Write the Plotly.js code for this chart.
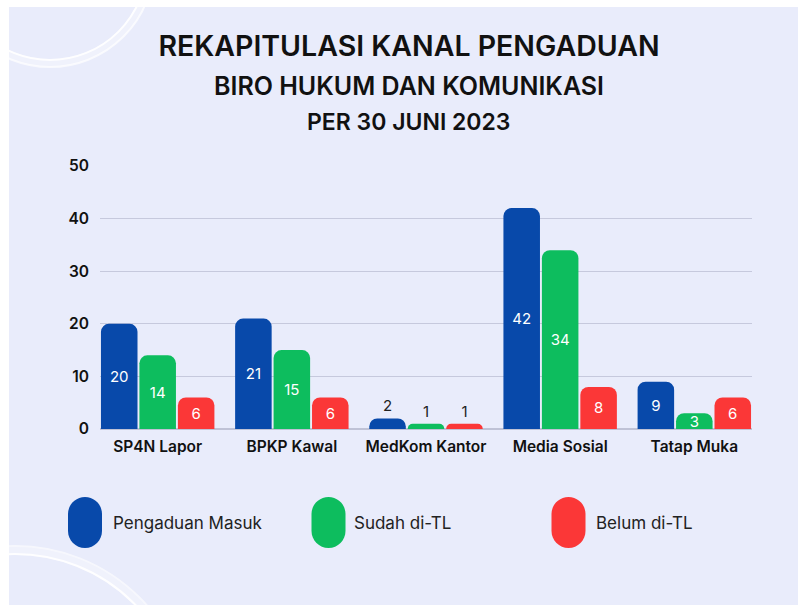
<!DOCTYPE html>
<html>
<head>
<meta charset="utf-8">
<script src="https://cdn.plot.ly/plotly-3.0.1.min.js"></script>
<style>html,body{margin:0;padding:0;background:#fff;}#chart{width:798px;height:605px;}</style>
</head>
<body>
<div id="chart"></div>
<script>
// ---- data ----
const categories = ['SP4N Lapor', 'BPKP Kawal', 'MedKom Kantor', 'Media Sosial', 'Tatap Muka'];
const pengaduanMasuk = [20, 21, 2, 42, 9];
const sudahTL = [14, 15, 1, 34, 3];
const belumTL = [6, 6, 1, 8, 6];
const seriesNames = ['Pengaduan Masuk', 'Sudah di-TL', 'Belum di-TL'];
const yTickVals = [0, 10, 20, 30, 40, 50];
const titleLines = ['REKAPITULASI KANAL PENGADUAN', 'BIRO HUKUM DAN KOMUNIKASI', 'PER 30 JUNI 2023'];

// ---- styles ----
const colors = ['#0849aa', '#0dbd5e', '#fb3737'];
const FONT = 'Inter, "DejaVu Sans", sans-serif';
const W = 798, H = 605;
const M = {l: 100, r: 46, t: 166, b: 176};
const PW = W - M.l - M.r, PH = H - M.t - M.b;
const fx = p => (p - M.l) / PW;
const fy = p => (H - M.b - p) / PH;

const allSeries = [pengaduanMasuk, sudahTL, belumTL];
// rounded bars (no text)
const barTraces = allSeries.map((vals, i) => ({
  type: 'bar',
  name: seriesNames[i],
  x: categories,
  y: vals,
  offsetgroup: 'g' + i,
  marker: {color: colors[i], cornerradius: 8},
  hoverinfo: 'skip'
}));
// value labels drawn on transparent square bars in the same slots
const labelTraces = allSeries.map((vals, i) => ({
  type: 'bar',
  name: seriesNames[i] + ' label',
  x: categories,
  y: vals,
  offsetgroup: 'g' + i,
  text: vals.map(String),
  textposition: vals.map(v => (v <= 2 ? 'outside' : 'inside')),
  insidetextanchor: 'middle',
  constraintext: 'none',
  textangle: 0,
  insidetextfont: {family: FONT, size: 15, color: '#ffffff'},
  outsidetextfont: {family: FONT, size: 15, color: '#222222'},
  marker: {color: 'rgba(0,0,0,0)'},
  hoverinfo: 'skip',
  cliponaxis: false
}));

function pillPath(w, h) {
  const r = w / 2, k = 0.5523 * r, hh = h / 2 - r;
  return `M ${-r},${-hh} L ${-r},${hh} C ${-r},${hh + k} ${-k},${hh + r} 0,${hh + r} ` +
    `C ${k},${hh + r} ${r},${hh + k} ${r},${hh} L ${r},${-hh} ` +
    `C ${r},${-hh - k} ${k},${-hh - r} 0,${-hh - r} C ${-k},${-hh - r} ${-r},${-hh - k} ${-r},${-hh} Z`;
}

const shapes = [];
// lavender card
shapes.push({type: 'rect', xref: 'paper', yref: 'paper', layer: 'below',
  x0: fx(9), x1: fx(800), y0: fy(7), y1: fy(607), line: {width: 0}, fillcolor: '#e9ecfb'});
// decorative arcs
function arc(cx, cy, r, w, op) {
  shapes.push({type: 'circle', xref: 'paper', yref: 'paper', layer: 'below',
    x0: fx(cx - r), x1: fx(cx + r), y0: fy(cy + r), y1: fy(cy - r),
    line: {color: 'rgba(255,255,255,' + op + ')', width: w}, fillcolor: 'rgba(0,0,0,0)'});
}
arc(50, -37, 100, 8, 0.35);
arc(50, -37, 97, 2, 0.9);
arc(50, -37, 104, 2, 0.7);
arc(15, 722, 171, 8, 0.35);
arc(15, 722, 168, 2, 0.9);
arc(15, 722, 176, 2, 0.6);

// legend pills + labels
const legendX = [85, 328.5, 568.5];
const legendTextX = [111, 352, 594];
const legendY = 522.5;
const annotations = [];
seriesNames.forEach((name, i) => {
  shapes.push({type: 'path', xref: 'paper', yref: 'paper', xsizemode: 'pixel', ysizemode: 'pixel',
    xanchor: fx(legendX[i]), yanchor: fy(legendY), path: pillPath(34, 51),
    fillcolor: colors[i], line: {width: 0}});
  annotations.push({xref: 'paper', yref: 'paper', x: fx(legendTextX[i]), y: fy(legendY),
    xanchor: 'left', yanchor: 'middle', showarrow: false, text: name,
    font: {family: FONT, size: 17, color: '#222222'}});
});

// subtitle lines
annotations.push({xref: 'paper', yref: 'paper', x: fx(409), y: fy(86), xanchor: 'center', yanchor: 'middle',
  showarrow: false, text: titleLines[1], font: {family: FONT, size: 25, color: '#111111', weight: 600}});
annotations.push({xref: 'paper', yref: 'paper', x: fx(409), y: fy(122), xanchor: 'center', yanchor: 'middle',
  showarrow: false, text: titleLines[2], font: {family: FONT, size: 23, color: '#111111', weight: 600}});

const layout = {
  width: W, height: H,
  margin: M,
  paper_bgcolor: '#ffffff',
  plot_bgcolor: 'rgba(0,0,0,0)',
  showlegend: false,
  barmode: 'group',
  bargap: 0.14,
  bargroupgap: 0.05,
  title: {text: titleLines[0], x: 409 / W, xanchor: 'center', y: 1 - 46 / H, yanchor: 'middle',
    font: {family: FONT, size: 28.5, color: '#111111', weight: 600}},
  xaxis: {
    range: [-0.43, 4.43], fixedrange: true, showgrid: false, zeroline: false, showline: false,
    ticks: '', ticklabelstandoff: 6,
    tickfont: {family: FONT, size: 15.5, color: '#111111', weight: 600}
  },
  yaxis: {
    range: [0, 50], tickvals: yTickVals, fixedrange: true, showgrid: true, gridcolor: '#c6c9dd', gridwidth: 1,
    zeroline: true, zerolinecolor: '#bfc2d6', zerolinewidth: 1.5, showline: false, ticks: '',
    ticklabelstandoff: 10,
    tickfont: {family: FONT, size: 15.5, color: '#111111', weight: 600}
  },
  shapes: shapes,
  annotations: annotations,
  font: {family: FONT}
};

Plotly.newPlot('chart', barTraces.concat(labelTraces), layout, {displayModeBar: false, staticPlot: true});
</script>
</body>
</html>
